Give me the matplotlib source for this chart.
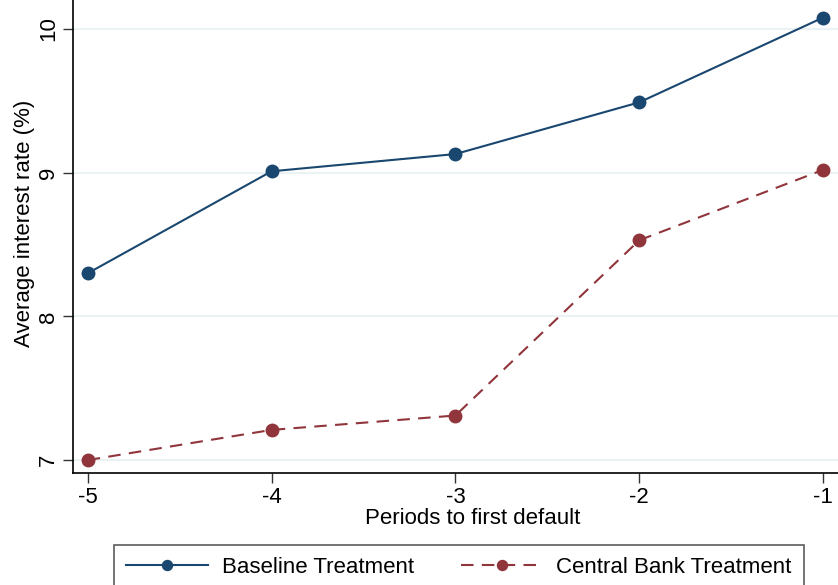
import matplotlib.pyplot as plt

periods = [-5, -4, -3, -2, -1]
baseline = [8.30, 9.01, 9.13, 9.49, 10.08]
central_bank = [7.00, 7.21, 7.31, 8.53, 9.02]
y_ticks = [7, 8, 9, 10]

NAVY = "#1a476f"
MAROON = "#90353b"

plt.rcParams['font.family'] = ['Liberation Sans', 'DejaVu Sans']
plt.rcParams['legend.markerscale'] = 0.8

fig = plt.figure(figsize=(8.38, 5.85), dpi=100)
# plot area runs past the top and right edge like the cropped original
ax = fig.add_axes([73 / 838, 1 - 473 / 585, 800 / 838, 500 / 585])

ax.plot(periods, baseline, color=NAVY, lw=1.5, marker='o', ms=9,
        label="Baseline Treatment", zorder=3)
ax.plot(periods, central_bank, color=MAROON, lw=1.5, ls=(0, (6, 4)), marker='o', ms=9,
        label="Central Bank Treatment", zorder=3)

ax.set_xlim(-5.08, -1 + (875 - 825) / 184.25)
ax.set_ylim(6.91, 6.91 + 500 / 143.67)
ax.set_xticks(periods)
ax.set_xticklabels([str(p) for p in periods])
ax.set_yticks(y_ticks)
ax.set_yticklabels([str(t) for t in y_ticks], rotation=90, va='center')
ax.tick_params(labelsize=16, length=7, width=1, color='#333333', pad=3)
ax.grid(axis='y', color='#eaf2f3', lw=1.5, zorder=0)
ax.set_axisbelow(True)
for s in ['top', 'right']:
    ax.spines[s].set_visible(False)
for s in ['left', 'bottom']:
    ax.spines[s].set_linewidth(1.2)

ax.set_xlabel("Periods to first default", fontsize=16, labelpad=0)
ax.set_ylabel("Average interest rate (%)", fontsize=16, labelpad=2)

leg = fig.legend(loc='upper left', bbox_to_anchor=(114 / 838, 1 - 545 / 585), ncol=2,
                 fontsize=16, frameon=True, fancybox=False, handlelength=3.7,
                 columnspacing=2.1, borderpad=0.55, handletextpad=0.6,
                 borderaxespad=0)
leg.get_frame().set_edgecolor('#333333')
leg.get_frame().set_linewidth(1.2)

fig.savefig("out.png", dpi=100)
